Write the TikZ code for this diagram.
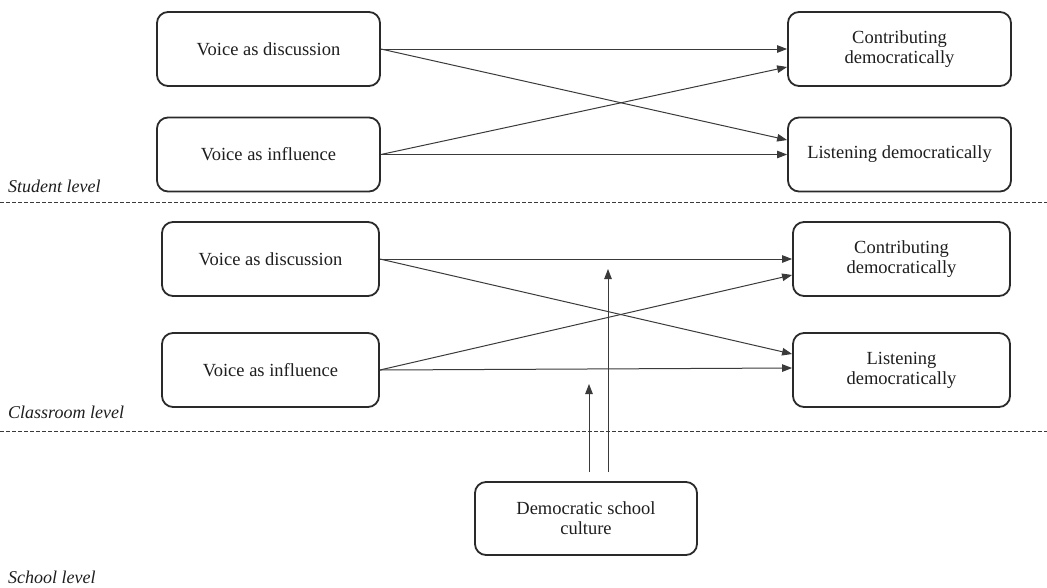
\documentclass[tikz,border=0pt]{standalone}
\usepackage{fontspec}
\setmainfont{Liberation Serif}
\usetikzlibrary{arrows.meta}
\definecolor{boxc}{HTML}{2A2A2A}
\definecolor{linec}{HTML}{3A3A3A}
\definecolor{txtc}{HTML}{1E1E1E}
\tikzset{
  box/.style={draw=boxc, line width=1.8pt, rounded corners=11pt, align=center,
    text=txtc, font=\fontsize{18.5}{20}\selectfont, inner sep=0pt},
  wbox/.style={box, minimum width=223pt, minimum height=74pt},
  nbox/.style={box, minimum width=217pt, minimum height=74pt},
  arr/.style={draw=linec, line width=1pt, -{Triangle[length=10pt,width=7.5pt]}},
  sep/.style={draw=linec, line width=0.9pt, dash pattern=on 4pt off 2pt},
  lvl/.style={anchor=base west, text=txtc, font=\fontsize{18}{20}\selectfont\itshape, inner sep=0pt}
}
\begin{document}
\begin{tikzpicture}[x=1pt,y=-1pt]
\useasboundingbox (0,0) rectangle (1047,587);
% student level
\node[wbox] (A1) at (268.5,49) {Voice as discussion};
\node[wbox] (A2) at (268.5,154.5) {Voice as influence};
\node[wbox] (B1) at (899.5,49) {Contributing\\democratically};
\node[wbox] (B2) at (899.5,154.5) {Listening democratically};
\draw[arr] (A1.east) -- (B1.west);
\draw[arr] (A1.east) -- ([yshift=14.5pt]B2.west);
\draw[arr] (A2.east) -- ([yshift=-18pt]B1.west);
\draw[arr] (A2.east) -- (B2.west);
\node[lvl] (L1) at (8,192) {Student level};
\coordinate (s1a) at (0,202);
\coordinate (s1b) at (1047,202);
\draw[sep] (s1a) -- (s1b);
% classroom level
\node[nbox] (C1) at (270.5,259) {Voice as discussion};
\node[nbox] (C2) at (270.5,370) {Voice as influence};
\node[nbox] (D1) at (901.5,259) {Contributing\\democratically};
\node[nbox] (D2) at (901.5,370) {Listening\\democratically};
\draw[arr] (C1.east) -- (D1.west);
\draw[arr] (C1.east) -- ([yshift=16pt]D2.west);
\draw[arr] (C2.east) -- ([yshift=-16pt]D1.west);
\draw[arr] (C2.east) -- ([yshift=2pt]D2.west);
\node[lvl] (L2) at (8,418) {Classroom level};
\coordinate (s2a) at (0,431);
\coordinate (s2b) at (1047,431);
\draw[sep] (s2a) -- (s2b);
% school level
\node[box, minimum width=222pt, minimum height=73pt] (E) at (586,518.5) {Democratic school\\culture};
\coordinate (t1) at (589,384);
\coordinate (t2) at (608,269);
\draw[arr] ([xshift=3pt,yshift=9pt]E.north) -- (t1);
\draw[arr] ([xshift=22pt,yshift=9pt]E.north) -- (t2);
\node[lvl] (L3) at (8,583) {School level};
\end{tikzpicture}
\end{document}
